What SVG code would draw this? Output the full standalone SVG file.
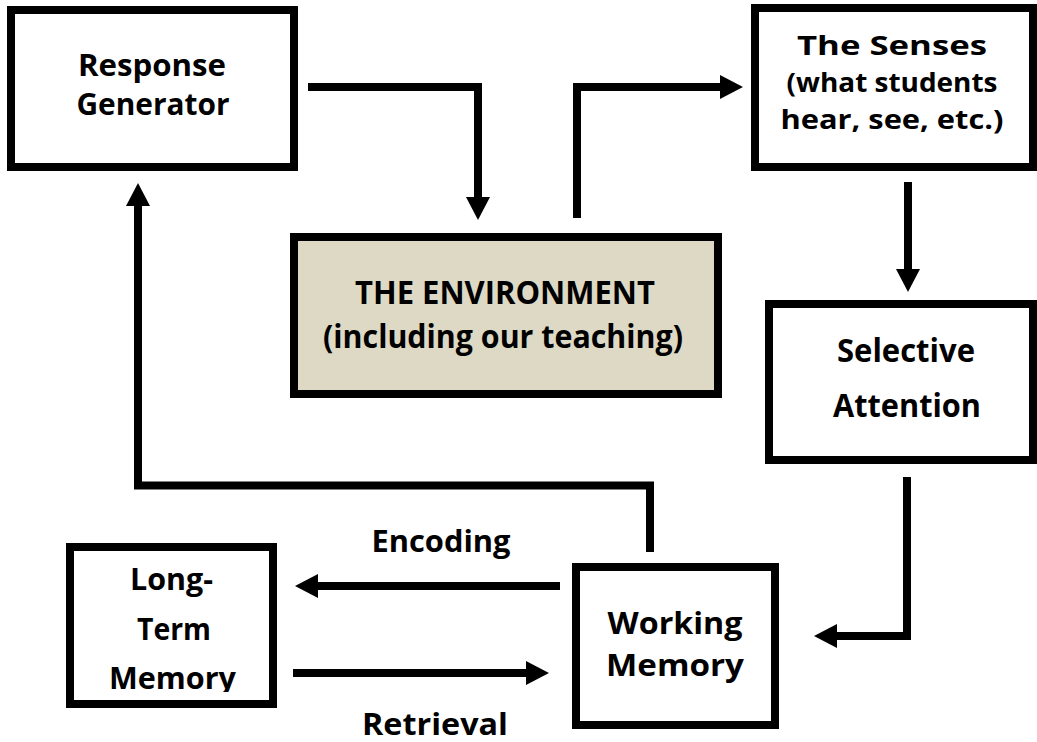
<svg xmlns="http://www.w3.org/2000/svg" width="1037" height="742" viewBox="0 0 1037 742">
<style>
.box{fill:#ffffff;stroke:#000;stroke-width:8}
.env{fill:#DDD9C4;stroke:#000;stroke-width:8}
.t{font-family:"Open Sans","Liberation Sans",sans-serif;font-weight:700;fill:#000;text-anchor:middle}
.c{fill:none;stroke:#000;stroke-width:8;stroke-linejoin:miter;stroke-linecap:butt}
</style>
<defs>
<marker id="ah" viewBox="0 0 23 24" refX="0" refY="12" markerWidth="23" markerHeight="24" markerUnits="userSpaceOnUse" orient="auto">
<polygon points="0,0 23,12 0,24" fill="#000"/>
</marker>
<clipPath id="ltclip"><rect x="60" y="540" width="230" height="152"/></clipPath>
</defs>
<rect width="1037" height="742" fill="#fff"/>
<g id="connectors">
<path class="c" d="M308,87 H478 V197" marker-end="url(#ah)"/>
<path class="c" d="M577,218 V87 H720" marker-end="url(#ah)"/>
<path class="c" d="M908,182 V269" marker-end="url(#ah)"/>
<path class="c" d="M907,477 V636 H837" marker-end="url(#ah)"/>
<path class="c" d="M650,552 V485.5 H138 V206" marker-end="url(#ah)"/>
<path class="c" d="M560,586 H318" marker-end="url(#ah)"/>
<path class="c" d="M293,673 H526" marker-end="url(#ah)"/>
</g>
<g id="response-generator">
<rect class="box" x="11" y="10" width="283" height="157"/>
<text class="t" x="152" y="76" font-size="30" textLength="148" lengthAdjust="spacingAndGlyphs">Response</text>
<text class="t" x="153" y="115" font-size="30" textLength="153" lengthAdjust="spacingAndGlyphs">Generator</text>
</g>
<g id="senses">
<rect class="box" x="755" y="8" width="278" height="159"/>
<text class="t" x="892" y="55" font-size="27" textLength="190" lengthAdjust="spacingAndGlyphs">The Senses</text>
<text class="t" x="892" y="92" font-size="27" textLength="211" lengthAdjust="spacingAndGlyphs">(what students</text>
<text class="t" x="892" y="129" font-size="27" textLength="223" lengthAdjust="spacingAndGlyphs">hear, see, etc.)</text>
</g>
<g id="environment">
<rect class="env" x="294" y="237" width="424" height="157"/>
<text class="t" x="505" y="304" font-size="33" textLength="300" lengthAdjust="spacingAndGlyphs">THE ENVIRONMENT</text>
<text class="t" x="503" y="348" font-size="33" textLength="360" lengthAdjust="spacingAndGlyphs">(including our teaching)</text>
</g>
<g id="selective-attention">
<rect class="box" x="769" y="304" width="264" height="156"/>
<text class="t" x="906" y="362" font-size="32" textLength="138" lengthAdjust="spacingAndGlyphs">Selective</text>
<text class="t" x="907" y="417" font-size="32" textLength="148" lengthAdjust="spacingAndGlyphs">Attention</text>
</g>
<g id="long-term-memory">
<rect class="box" x="70" y="547" width="203" height="157"/>
<g clip-path="url(#ltclip)">
<text class="t" x="171.5" y="590" font-size="31" textLength="83" lengthAdjust="spacingAndGlyphs">Long-</text>
<text class="t" x="174" y="640" font-size="31" textLength="74" lengthAdjust="spacingAndGlyphs">Term</text>
<text class="t" x="172.5" y="689" font-size="31" textLength="127" lengthAdjust="spacingAndGlyphs">Memory</text>
</g>
</g>
<g id="working-memory">
<rect class="box" x="576" y="567" width="199" height="158"/>
<text class="t" x="675" y="634" font-size="31" textLength="135" lengthAdjust="spacingAndGlyphs">Working</text>
<text class="t" x="675" y="676" font-size="31" textLength="138" lengthAdjust="spacingAndGlyphs">Memory</text>
</g>
<g id="labels">
<text class="t" x="441" y="552" font-size="31" textLength="139" lengthAdjust="spacingAndGlyphs">Encoding</text>
<text class="t" x="435" y="735" font-size="31" textLength="146" lengthAdjust="spacingAndGlyphs">Retrieval</text>
</g>
</svg>
